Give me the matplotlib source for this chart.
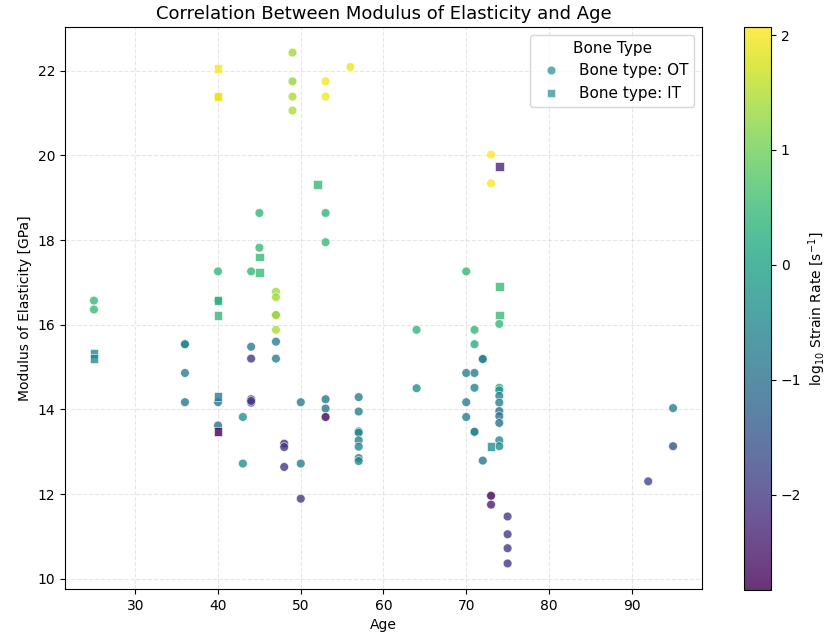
import matplotlib
matplotlib.use("Agg")
import matplotlib.pyplot as plt
from matplotlib.lines import Line2D
import numpy as np

# Osteonal bone (OT) samples
ot_age = [25, 25,
          36, 36, 36, 36,
          40, 40, 40, 40, 40,
          43, 43,
          44, 44, 44, 44, 44, 44,
          45, 45,
          47, 47, 47, 47, 47, 47, 47,
          48, 48, 48,
          49, 49, 49, 49,
          50, 50, 50,
          53, 53, 53, 53, 53, 53, 53,
          56,
          57, 57, 57, 57, 57, 57, 57, 57,
          64, 64,
          70, 70, 70, 70,
          71, 71, 71, 71, 71, 71,
          72, 72, 72,
          73, 73, 73, 73,
          74, 74, 74, 74, 74, 74, 74, 74, 74, 74,
          75, 75, 75, 75,
          92,
          95, 95]
ot_modulus = [16.57, 16.36,
              15.54, 15.54, 14.86, 14.17,
              21.38, 17.26, 16.57, 14.17, 13.62,
              13.82, 12.72,
              17.26, 15.48, 15.20, 14.24, 14.16, 14.20,
              18.64, 17.82,
              16.78, 16.65, 16.23, 16.23, 15.88, 15.60, 15.20,
              13.19, 13.11, 12.64,
              22.43, 21.75, 21.39, 21.06,
              14.17, 12.72, 11.89,
              21.75, 21.39, 18.64, 17.95, 14.24, 14.02, 13.82,
              22.09,
              14.29, 13.95, 13.48, 13.45, 13.27, 13.12, 12.85, 12.78,
              15.88, 14.50,
              17.26, 14.86, 14.17, 13.82,
              15.88, 15.54, 14.86, 14.51, 13.47, 13.47,
              15.19, 15.19, 12.79,
              20.02, 19.34, 11.96, 11.75,
              16.02, 14.51, 14.45, 14.32, 14.16, 13.96, 13.84, 13.68, 13.27, 13.13,
              11.47, 11.05, 10.72, 10.36,
              12.30,
              14.03, 13.13]
ot_log_rate = [0.45, 0.50,
               -0.60, -0.60, -0.80, -0.90,
               1.85, 0.40, 0.30, -0.90, -0.90,
               -0.40, -0.40,
               0.40, -0.80, -2.00, -2.00, -2.00, -2.00,
               0.40, 0.50,
               1.40, 1.40, 1.30, 1.30, 1.45, -0.70, -0.70,
               -2.10, -2.10, -2.00,
               1.40, 1.30, 1.45, 1.45,
               -0.80, -0.80, -2.00,
               2.00, 2.00, 0.40, 0.45, -0.90, -0.90, -2.80,
               1.95,
               -0.80, -0.80, -0.60, -0.60, -0.60, -0.60, -0.60, -0.60,
               0.40, -0.40,
               0.40, -0.80, -0.80, -0.80,
               0.40, 0.20, -0.80, -0.60, -0.60, -0.60,
               -0.70, -0.70, -0.90,
               2.07, 2.05, -2.80, -2.40,
               0.45, 0.10, -0.20, -0.70, -0.70, -1.00, -1.00, -1.00, -0.50, -0.50,
               -2.00, -2.00, -2.00, -2.00,
               -1.80,
               -0.70, -1.60]

# Interstitial bone (IT) samples
it_age = [25, 25, 40, 40, 40, 40, 40, 40, 45, 45, 52, 73, 74, 74, 74]
it_modulus = [15.32, 15.20, 22.06, 21.39, 16.57, 16.21, 14.30, 13.47,
              17.60, 17.24, 19.31, 13.13, 19.73, 16.90, 16.23]
it_log_rate = [-0.50, -0.50, 2.00, 1.90, 0.30, 0.40, -0.80, -2.83,
               0.50, 0.50, 0.45, -0.40, -2.30, 0.50, 0.50]

vmin = min(min(ot_log_rate), min(it_log_rate))
vmax = max(max(ot_log_rate), max(it_log_rate))

fig = plt.figure(figsize=(8.29, 6.36), dpi=100)
ax = fig.add_axes([0.0784, 0.0739, 0.7684, 0.8836])
cax = fig.add_axes([0.8975, 0.0723, 0.0326, 0.8852])

sc = ax.scatter(ot_age, ot_modulus, c=ot_log_rate, cmap="viridis",
                vmin=vmin, vmax=vmax, s=40, marker="o", alpha=0.8,
                edgecolors="white", linewidths=0.5, zorder=3)
ax.scatter(it_age, it_modulus, c=it_log_rate, cmap="viridis",
           vmin=vmin, vmax=vmax, s=40, marker="s", alpha=0.8,
           edgecolors="white", linewidths=0.5, zorder=3)

ax.set_title("Correlation Between Modulus of Elasticity and Age", fontsize=13)
ax.set_xlabel("Age")
ax.set_ylabel("Modulus of Elasticity [GPa]")
ax.grid(True, linestyle="--", alpha=0.3)

legend_color = "#3a9a9c"
handles = [
    Line2D([], [], linestyle="none", marker="o", markersize=6.3,
           markerfacecolor=legend_color, markeredgecolor="white",
           markeredgewidth=0.5, alpha=0.8, label="Bone type: OT"),
    Line2D([], [], linestyle="none", marker="s", markersize=6.3,
           markerfacecolor=legend_color, markeredgecolor="white",
           markeredgewidth=0.5, alpha=0.8, label="Bone type: IT"),
]
ax.legend(handles=handles, title="Bone Type", loc="upper right",
          fontsize=11, title_fontsize=11)

cbar = fig.colorbar(sc, cax=cax)
cbar.set_label(r"log$_{10}$ Strain Rate [s$^{-1}$]")

fig.savefig("out.png", dpi=100)
